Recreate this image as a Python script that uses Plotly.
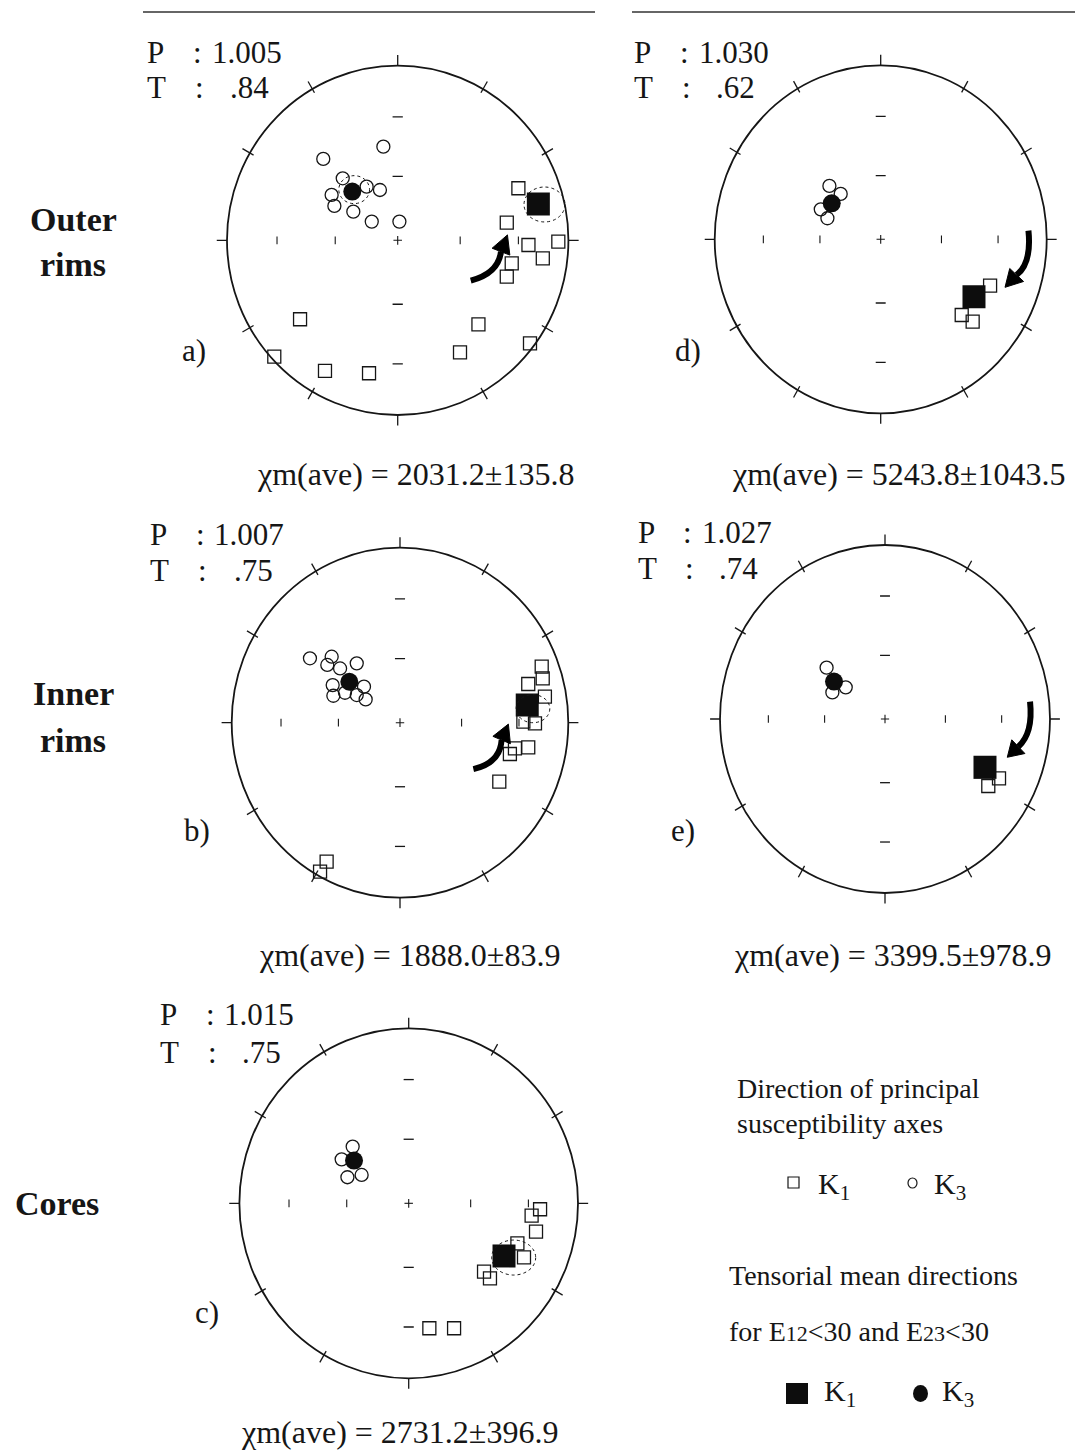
import math
import plotly.graph_objects as go

W, H = 1085, 1450

# ---------------- DATA (stereonet positions, normalised to net radius: x east, y north) ----------
PANELS = ["a", "b", "c", "d", "e"]

a_k1_x = [0.707, 0.639, 0.766, 0.850, 0.941, 0.668, 0.639, -0.572, 0.473, -0.723, 0.365, 0.775, -0.426, -0.168]
a_k1_y = [0.298, 0.101, -0.027, -0.103, -0.008, -0.132, -0.208, -0.452, -0.481, -0.666, -0.641, -0.590, -0.748, -0.761]
a_k3_x = [-0.084, -0.436, -0.322, -0.182, -0.104, -0.387, -0.371, -0.260, -0.152, 0.010]
a_k3_y = [0.536, 0.466, 0.355, 0.307, 0.288, 0.260, 0.197, 0.164, 0.107, 0.107]
a_k1_mean = [0.824, 0.208]
a_k3_mean = [-0.266, 0.279]

b_k1_x = [0.842, 0.848, 0.762, 0.861, 0.733, 0.802, 0.762, 0.683, 0.653, 0.590, -0.436, -0.475]
b_k1_y = [0.320, 0.253, 0.221, 0.149, 0.006, -0.004, -0.141, -0.147, -0.179, -0.337, -0.794, -0.851]
b_k3_x = [-0.535, -0.406, -0.432, -0.257, -0.356, -0.400, -0.396, -0.327, -0.257, -0.204, -0.214]
b_k3_y = [0.368, 0.377, 0.330, 0.339, 0.310, 0.215, 0.154, 0.171, 0.158, 0.133, 0.206]
b_k1_mean = [0.756, 0.101]
b_k3_mean = [-0.301, 0.234]

c_k1_x = [0.776, 0.726, 0.752, 0.642, 0.681, 0.445, 0.480, 0.122, 0.268]
c_k1_y = [-0.034, -0.070, -0.162, -0.229, -0.309, -0.390, -0.429, -0.714, -0.714]
c_k3_x = [-0.331, -0.396, -0.362, -0.278]
c_k3_y = [0.324, 0.251, 0.149, 0.162]
c_k1_mean = [0.563, -0.301]
c_k3_mean = [-0.323, 0.244]

d_k1_x = [0.659, 0.488, 0.554]
d_k1_y = [-0.266, -0.435, -0.473]
d_k3_x = [-0.309, -0.241, -0.361, -0.321]
d_k3_y = [0.307, 0.261, 0.172, 0.121]
d_k1_mean = [0.562, -0.330]
d_k3_mean = [-0.295, 0.207]

e_k1_x = [0.691, 0.626]
e_k1_y = [-0.341, -0.385]
e_k3_x = [-0.354, -0.238, -0.319]
e_k3_y = [0.295, 0.182, 0.153]
e_k1_mean = [0.606, -0.278]
e_k3_mean = [-0.309, 0.215]

P_values = {"a": "1.005", "b": "1.007", "c": "1.015", "d": "1.030", "e": "1.027"}
T_values = {"a": ".84", "b": ".75", "c": ".75", "d": ".62", "e": ".74"}
CHI_values = {"a": "2031.2±135.8", "b": "1888.0±83.9", "c": "2731.2±396.9",
              "d": "5243.8±1043.5", "e": "3399.5±978.9"}
ROW_labels = [("Outer", "rims"), ("Inner", "rims"), ("Cores",)]

DATA = {
    "a": (a_k1_x, a_k1_y, a_k3_x, a_k3_y, a_k1_mean, a_k3_mean),
    "b": (b_k1_x, b_k1_y, b_k3_x, b_k3_y, b_k1_mean, b_k3_mean),
    "c": (c_k1_x, c_k1_y, c_k3_x, c_k3_y, c_k1_mean, c_k3_mean),
    "d": (d_k1_x, d_k1_y, d_k3_x, d_k3_y, d_k1_mean, d_k3_mean),
    "e": (e_k1_x, e_k1_y, e_k3_x, e_k3_y, e_k1_mean, e_k3_mean),
}

# ---------------- LAYOUT GEOMETRY (pixels) ----------------
GEOM = {  # centre x, centre y, radius x, radius y
    "a": (397.7, 240.3, 170.7, 174.7),
    "d": (880.7, 239.3, 166.0, 174.0),
    "b": (400.0, 722.7, 168.3, 175.0),
    "e": (885.0, 719.0, 165.0, 174.0),
    "c": (408.7, 1203.3, 169.3, 175.0),
}
# curved arrows: start, control, end of shaft, tip (net units)
ARROWS = {
    "a": [(0.428, -0.231), (0.590, -0.189), (0.605, -0.065), (0.643, 0.031)],
    "b": [(0.436, -0.265), (0.594, -0.232), (0.604, -0.099), (0.644, -0.008)],
    "d": [(0.890, 0.050), (0.910, -0.138), (0.819, -0.205), (0.749, -0.276)],
    "e": [(0.879, 0.100), (0.899, -0.082), (0.808, -0.159), (0.741, -0.220)],
}
ELLIPSES = {  # dashed confidence ellipses: cx, cy, rx, ry
    "a": [(0.86, 0.205, 0.12, 0.10), (-0.255, 0.29, 0.09, 0.08)],
    "b": [(0.79, 0.08, 0.10, 0.08)],
    "c": [(0.62, -0.31, 0.13, 0.10)],
}
SERIF = "Liberation Serif, Times New Roman, serif"
INK = "#161616"
PAD = 1.15

fig = go.Figure()
shapes = []
annotations = []
layout = {}

for i, p in enumerate(PANELS, start=1):
    cx, cy, rx, ry = GEOM[p]
    sfx = "" if i == 1 else str(i)
    xr, yr = "x" + sfx, "y" + sfx
    layout["xaxis" + sfx] = dict(domain=[(cx - PAD * rx) / W, (cx + PAD * rx) / W], range=[-PAD, PAD],
                                 visible=False, anchor=yr, fixedrange=True)
    layout["yaxis" + sfx] = dict(domain=[1 - (cy + PAD * ry) / H, 1 - (cy - PAD * ry) / H], range=[-PAD, PAD],
                                 visible=False, anchor=xr, fixedrange=True)
    # primitive circle
    shapes.append(dict(type="circle", xref=xr, yref=yr, x0=-1, y0=-1, x1=1, y1=1,
                       line=dict(color=INK, width=1.8), layer="below"))
    # peripheral ticks every 30 degrees
    for k in range(12):
        az = math.radians(k * 30)
        r0, r1 = (1.0, 1.06) if k % 3 == 0 else (0.975, 1.05)
        shapes.append(dict(type="line", xref=xr, yref=yr,
                           x0=r0 * math.sin(az), y0=r0 * math.cos(az),
                           x1=r1 * math.sin(az), y1=r1 * math.cos(az),
                           line=dict(color=INK, width=1.3)))
    # centre cross
    shapes.append(dict(type="line", xref=xr, yref=yr, x0=-0.025, y0=0, x1=0.025, y1=0, line=dict(color=INK, width=1.1)))
    shapes.append(dict(type="line", xref=xr, yref=yr, x0=0, y0=-0.025, x1=0, y1=0.025, line=dict(color=INK, width=1.1)))
    # inner ticks at 60 and 30 degrees plunge (equal-area)
    for r in (0.366, 0.707):
        for s in (-1, 1):
            shapes.append(dict(type="line", xref=xr, yref=yr, x0=s * r, y0=-0.022, x1=s * r, y1=0.022,
                               line=dict(color=INK, width=1.1)))
            shapes.append(dict(type="line", xref=xr, yref=yr, x0=-0.03, y0=s * r, x1=0.03, y1=s * r,
                               line=dict(color=INK, width=1.3)))
    # dashed ellipses
    for (ex, ey, erx, ery) in ELLIPSES.get(p, []):
        shapes.append(dict(type="circle", xref=xr, yref=yr, x0=ex - erx, x1=ex + erx, y0=ey - ery, y1=ey + ery,
                           line=dict(color=INK, width=1, dash="dot")))
    # arrows
    if p in ARROWS:
        (sx, sy), (qx, qy), (ex_, ey_), (tx, ty) = ARROWS[p]
        shapes.append(dict(type="path", xref=xr, yref=yr,
                           path=f"M {sx},{sy} Q {qx},{qy} {ex_},{ey_}",
                           line=dict(color="#000", width=6)))
        dx, dy = tx - ex_, ty - ey_
        L = math.hypot(dx * rx, dy * ry)
        nx, ny = -dy * ry / L, dx * rx / L
        hw = 9.5  # half width of arrow head in px
        bx1, by1 = ex_ + nx * hw / rx, ey_ + ny * hw / ry
        bx2, by2 = ex_ - nx * hw / rx, ey_ - ny * hw / ry
        shapes.append(dict(type="path", xref=xr, yref=yr,
                           path=f"M {bx1},{by1} L {tx},{ty} L {bx2},{by2} Z",
                           fillcolor="#000", line=dict(color="#000", width=1)))

    k1x, k1y, k3x, k3y, k1m, k3m = DATA[p]
    fig.add_trace(go.Scatter(x=k3x, y=k3y, mode="markers", xaxis=xr, yaxis=yr, showlegend=False,
                             marker=dict(symbol="circle-open", size=13, color=INK, line=dict(width=1.3))))
    fig.add_trace(go.Scatter(x=k1x, y=k1y, mode="markers", xaxis=xr, yaxis=yr, showlegend=False,
                             marker=dict(symbol="square-open", size=13, color=INK, line=dict(width=1.3))))
    fig.add_trace(go.Scatter(x=[k3m[0]], y=[k3m[1]], mode="markers", xaxis=xr, yaxis=yr, showlegend=False,
                             marker=dict(symbol="circle", size=18, color="#0d0d0d")))
    fig.add_trace(go.Scatter(x=[k1m[0]], y=[k1m[1]], mode="markers", xaxis=xr, yaxis=yr, showlegend=False,
                             marker=dict(symbol="square", size=23, color="#0d0d0d")))


def txt(x, y, s, size=31, anchor="left", bold=False):
    if bold:
        s = "<b>" + s + "</b>"
    annotations.append(dict(x=x / W, y=1 - y / H, xref="paper", yref="paper", text=s, showarrow=False,
                            xanchor=anchor, yanchor="middle", font=dict(family=SERIF, size=size, color=INK)))


# P / T blocks: (P x, colon x, value x, T value x, row1 y, row2 y) per panel
PT_POS = {
    "a": (145, 191, 210, 228, 52, 88),
    "d": (632, 678, 697, 714, 52, 87),
    "b": (148, 194, 212, 232, 535, 570),
    "e": (636, 681, 700, 717, 532, 568),
    "c": (158, 204, 222, 240, 1015, 1052),
}
for p, (px_, cx_, vx, tvx, y1, y2) in PT_POS.items():
    txt(px_, y1, "P")
    txt(cx_, y1, ":")
    txt(vx, y1, P_values[p])
    txt(px_, y2, "T")
    txt(cx_ + 2, y2, ":")
    txt(tvx, y2, T_values[p])

CHI_POS = {"a": (415, 474), "d": (898, 474), "b": (410, 955), "e": (892, 955), "c": (399, 1432)}
for p, (x, y) in CHI_POS.items():
    txt(x, y, "χm(ave) = " + CHI_values[p], size=32, anchor="center")

LABEL_POS = {"a": (194, 350), "d": (688, 350), "b": (197, 830), "e": (683, 830), "c": (207, 1312)}
for p, (x, y) in LABEL_POS.items():
    txt(x, y, p + ")", size=31, anchor="center")

ROW_POS = [[(73, 219), (73, 264)], [(73, 694), (73, 740)], [(57, 1203)]]
for words, poss in zip(ROW_labels, ROW_POS):
    for w_, (x, y) in zip(words, poss):
        txt(x, y, w_, size=34, anchor="center", bold=True)

# legend texts
txt(735, 1088, "Direction of principal", size=28)
txt(735, 1123, "susceptibility axes", size=28)
txt(816, 1186, "K<sub>1</sub>", size=30)
txt(932, 1186, "K<sub>3</sub>", size=30)
txt(727, 1275, "Tensorial mean directions", size=28)
txt(727, 1331, "for E<span style='font-size:22px'>12</span>&lt;30 and E<span style='font-size:22px'>23</span>&lt;30", size=28)
txt(822, 1393, "K<sub>1</sub>", size=30)
txt(940, 1393, "K<sub>3</sub>", size=30)


def prect(x0, y0, x1, y1, fill=None, kind="rect", lw=1.2):
    d = dict(type=kind, xref="paper", yref="paper", x0=x0 / W, x1=x1 / W, y0=1 - y1 / H, y1=1 - y0 / H,
             line=dict(color=INK, width=lw))
    if fill:
        d["fillcolor"] = fill
    shapes.append(d)


prect(788, 1177, 799, 1188)
prect(908, 1178, 917, 1188, kind="circle")
prect(786, 1383, 808, 1404, fill="#0d0d0d", lw=0)
prect(913, 1385, 928, 1402, fill="#0d0d0d", kind="circle", lw=0)

# header rules
shapes.append(dict(type="line", xref="paper", yref="paper", x0=143 / W, x1=595 / W, y0=1 - 12 / H, y1=1 - 12 / H,
                   line=dict(color="#333", width=1.5)))
shapes.append(dict(type="line", xref="paper", yref="paper", x0=632 / W, x1=1075 / W, y0=1 - 12 / H, y1=1 - 12 / H,
                   line=dict(color="#333", width=1.5)))

fig.update_layout(width=W, height=H, margin=dict(l=0, r=0, t=0, b=0), paper_bgcolor="white",
                  plot_bgcolor="rgba(0,0,0,0)", shapes=shapes, annotations=annotations, **layout)
fig.write_html("out.html", config={"displayModeBar": False},
               post_script="document.body.style.margin='0px';document.body.style.padding='0px';")
